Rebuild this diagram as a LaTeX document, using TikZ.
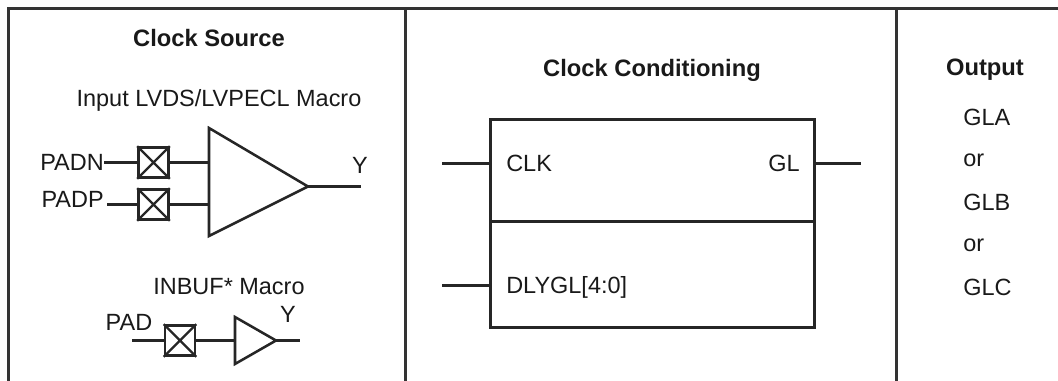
\documentclass[tikz,border=0pt]{standalone}
\usepackage{fontspec}
\setmainfont{Liberation Sans}
\usetikzlibrary{positioning}
\begin{document}
\begin{tikzpicture}[
        x=0.75pt, y=-0.75pt,
        wire/.style={line width=1.7pt, draw=black!85},
        frameline/.style={line width=1.9pt, draw=black!80},
        title/.style={font=\fontsize{17.8}{20}\selectfont\bfseries, text=black!90, inner sep=0pt},
        label/.style={font=\fontsize{17.6}{20}\selectfont, text=black!90, inner sep=0pt},
        padbox/.style={draw=black!85, line width=2pt, minimum size=22.5pt, inner sep=0pt},
        block/.style={draw=black!85, line width=1.8pt, minimum width=243pt, inner sep=0pt}
    ]
        \useasboundingbox (0,0) rectangle (1058,381);

        % outer frame and dividers
        \coordinate (fa) at (8.5,381);
        \coordinate (fb) at (8.5,8.5);
        \coordinate (fc) at (1058,8.5);
        \coordinate (da) at (405.5,8.5);
        \coordinate (db) at (405.5,381);
        \coordinate (dc) at (896.5,8.5);
        \coordinate (dd) at (896.5,381);
        \draw[frameline] (fa) -- (fb) -- (fc);
        \draw[frameline] (da) -- (db);
        \draw[frameline] (dc) -- (dd);

        % clock source
        \node[title] (srctitle) at (209,38) {Clock Source};
        \node[label] (lvds) at (219,100) {Input LVDS/LVPECL Macro};
        \node[label, anchor=east] (padn) at (104,162) {PADN};
        \node[label, anchor=east] (padp) at (104,199) {PADP};
        \node[padbox] (bn) at (153.5,162.5) {};
        \node[padbox] (bp) at (153.5,204.5) {};
        \draw[wire] (bn.north west) -- (bn.south east) (bn.north east) -- (bn.south west);
        \draw[wire] (bp.north west) -- (bp.south east) (bp.north east) -- (bp.south west);
        \coordinate (ta) at (209,128);
        \coordinate (tb) at (308,186.5);
        \coordinate (tc) at (209,236);
        \draw[wire, line width=1.9pt] (ta) -- (tb) -- (tc) -- cycle;
        \coordinate (ina) at (209,162.5);
        \coordinate (inb) at (209,204.5);
        \coordinate (py) at (107,204.5);
        \coordinate (oy) at (361,186.5);
        \draw[wire] (padn.east) ++(0,0.5) -- (bn);
        \draw[wire] (py) -- (bp);
        \draw[wire] (bn) -- (ina);
        \draw[wire] (bp) -- (inb);
        \draw[wire] (tb) -- (oy);
        \node[label] (ylarge) at (360,165) {Y};

        % inbuf
        \node[label] (inbuf) at (229,287) {INBUF* Macro};
        \node[label] (pad) at (129,322) {PAD};
        \node[padbox] (bi) at (180,340.5) {};
        \draw[wire] (bi.north west) -- (bi.south east) (bi.north east) -- (bi.south west);
        \coordinate (ua) at (235,317);
        \coordinate (ub) at (276,340.5);
        \coordinate (uc) at (235,364);
        \draw[wire, line width=1.9pt] (ua) -- (ub) -- (uc) -- cycle;
        \coordinate (pi) at (132,340.5);
        \coordinate (qi) at (235,340.5);
        \coordinate (oi) at (300,340.5);
        \draw[wire] (pi) -- (bi);
        \draw[wire] (bi) -- (qi);
        \draw[wire] (ub) -- (oi);
        \node[label] (ysmall) at (288,314) {Y};

        % clock conditioning
        \node[title] (condtitle) at (652,70) {Clock Conditioning};
        \node[block, minimum height=76.5pt] (upper) at (652.5,170.5) {};
        \node[block, minimum height=79.5pt] (lower) at (652.5,274.5) {};
        \coordinate (cl) at (442,163.5);
        \coordinate (cr) at (861,163.5);
        \coordinate (dl) at (442,285.5);
        \coordinate (cle) at (490.5,163.5);
        \coordinate (cre) at (814.5,163.5);
        \coordinate (dle) at (490.5,285.5);
        \draw[wire] (cl) -- (cle);
        \draw[wire] (cre) -- (cr);
        \draw[wire] (dl) -- (dle);
        \node[label, anchor=west] (clk) at (506,163) {CLK};
        \node[label, anchor=east] (gl) at (800,163) {GL};
        \node[label, anchor=west] (dly) at (506,287) {DLYGL[4:0]};

        % output
        \node[title] (outtitle) at (985,70) {Output};
        \node[label, anchor=west] (gla) at (963,117) {GLA};
        \node[label, anchor=west] (ora) at (963,160) {or};
        \node[label, anchor=west] (glb) at (963,202) {GLB};
        \node[label, anchor=west] (orb) at (963,245) {or};
        \node[label, anchor=west] (glc) at (963,287) {GLC};
    \end{tikzpicture}
\end{document}
